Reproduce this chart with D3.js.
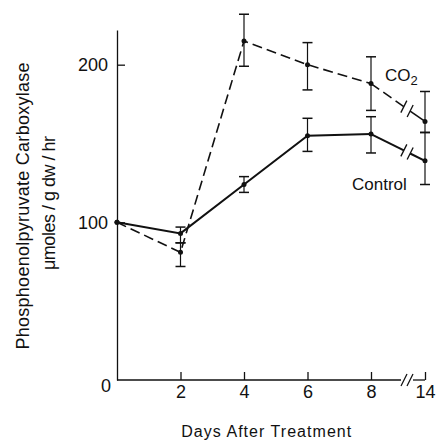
<!DOCTYPE html>
<meta charset="utf-8">
<style>
  body { margin: 0; background: #fff; }
  text { font-family: "Liberation Sans", Arial, sans-serif; fill: #111; }
</style>
<script src="https://d3js.org/d3.v7.min.js"></script>
<div id="chart"></div>
<script>

// values
var days      = [0, 2, 4, 6, 8, 14];
var co2       = [100, 81, 215, 200, 188, 164];
var co2Hi     = [null, 87, 232, 214, 205, 183];
var co2Lo     = [null, 72, 199, 184, 171, 157];
var control   = [100, 93, 124, 155, 156, 139];
var controlHi = [null, 97, 129, 166, 167, 157];
var controlLo = [null, 87, 119, 145, 144, 124];
var xTicks = [2, 4, 6, 8, 14];
var yTicks = [0, 100, 200];
var breakDay = 12;

var width = 436, height = 442;

var svg = d3.select("#chart").append("svg")
    .attr("width", width)
    .attr("height", height);

// axis is broken between 8 and 14
var x = d3.scaleLinear().domain([0, 8, 14]).range([117, 371, 425]);
var y = d3.scaleLinear().domain([0, 222]).range([380, 30]);

// y axis
var yAxis = svg.append("g")
    .attr("transform", "translate(" + x(0) + ",0)")
    .call(d3.axisLeft(y).tickValues(yTicks).tickSize(-8).tickSizeOuter(0).tickPadding(9));
yAxis.select(".domain").attr("stroke", "#111").attr("stroke-width", 1.3);
yAxis.selectAll(".tick line").attr("stroke", "#111").attr("stroke-width", 1.3);
yAxis.selectAll("text").style("font-size", "18px").attr("fill", "#111");
yAxis.selectAll(".tick").filter(function(d) { return d === 0; })
    .select("text").attr("transform", "translate(3,6)");
yAxis.selectAll(".tick").filter(function(d) { return d === 0; })
    .select("line").remove();

// x axis
var xAxis = svg.append("g")
    .attr("transform", "translate(0," + y(0) + ")")
    .call(d3.axisBottom(x).tickValues(xTicks).tickSize(-8).tickSizeOuter(0).tickPadding(5));
xAxis.select(".domain").remove();
xAxis.selectAll(".tick line").attr("stroke", "#111").attr("stroke-width", 1.3);
xAxis.selectAll("text").style("font-size", "18px").attr("fill", "#111");

var bx = x(breakDay);
xAxis.append("line").attr("x1", x(0)).attr("x2", bx - 6).attr("y1", 0).attr("y2", 0)
    .attr("stroke", "#111").attr("stroke-width", 1.3);
xAxis.append("line").attr("x1", bx + 6).attr("x2", x(14)).attr("y1", 0).attr("y2", 0)
    .attr("stroke", "#111").attr("stroke-width", 1.3);
[-3, 3].forEach(function(o) {
  xAxis.append("line")
      .attr("x1", bx + o - 3).attr("y1", 6)
      .attr("x2", bx + o + 3).attr("y2", -6)
      .attr("stroke", "#111").attr("stroke-width", 1.3);
});

// axis titles
svg.append("text")
    .attr("x", x(4.7)).attr("y", 437)
    .attr("text-anchor", "middle")
    .attr("textLength", 170).attr("lengthAdjust", "spacing")
    .style("font-size", "16px")
    .text("Days After Treatment");

svg.append("text")
    .attr("transform", "translate(29,206) rotate(-90)")
    .attr("text-anchor", "middle")
    .attr("textLength", 287).attr("lengthAdjust", "spacing")
    .style("font-size", "18px")
    .text("Phosphoenolpyruvate Carboxylase");

svg.append("text")
    .attr("transform", "translate(55,203) rotate(-90)")
    .attr("text-anchor", "middle")
    .attr("textLength", 134).attr("lengthAdjust", "spacing")
    .style("font-size", "18px")
    .text("\u03bcmoles / g dw / hr");

function drawSeries(vals, hi, lo, dash, sw) {
  var pts = days.map(function(d, i) { return [x(d), y(vals[i])]; });
  var line = d3.line();

  // days 0-8
  svg.append("path")
      .attr("d", line(pts.slice(0, 5)))
      .attr("fill", "none").attr("stroke", "#111")
      .attr("stroke-width", sw)
      .attr("stroke-dasharray", dash);

  // 8 -> 14 with a break in the middle
  var v = d3.scaleLinear().domain([8, 14]).range([vals[4], vals[5]]);
  var a = breakDay - 0.35, b = breakDay + 0.35;
  svg.append("path")
      .attr("d", line([[x(8), y(vals[4])], [x(a), y(v(a))]]))
      .attr("fill", "none").attr("stroke", "#111")
      .attr("stroke-width", sw).attr("stroke-dasharray", dash);
  svg.append("path")
      .attr("d", line([[x(b), y(v(b))], [x(14), y(vals[5])]]))
      .attr("fill", "none").attr("stroke", "#111")
      .attr("stroke-width", sw);
  [a, b].forEach(function(t) {
    var cx = x(t), cy = y(v(t));
    svg.append("line")
        .attr("x1", cx - 3).attr("y1", cy + 6)
        .attr("x2", cx + 3).attr("y2", cy - 6)
        .attr("stroke", "#111").attr("stroke-width", 1.3);
  });

  // error bars
  days.forEach(function(d, i) {
    if (hi[i] == null) return;
    var cx = x(d);
    svg.append("line").attr("x1", cx).attr("x2", cx)
        .attr("y1", y(hi[i])).attr("y2", y(lo[i]))
        .attr("stroke", "#111").attr("stroke-width", 1.2);
    [hi[i], lo[i]].forEach(function(e) {
      svg.append("line").attr("x1", cx - 5).attr("x2", cx + 5)
          .attr("y1", y(e)).attr("y2", y(e))
          .attr("stroke", "#111").attr("stroke-width", 1.5);
    });
  });

  svg.selectAll(null).data(pts).enter().append("circle")
      .attr("cx", function(p) { return p[0]; })
      .attr("cy", function(p) { return p[1]; })
      .attr("r", 2.5).attr("fill", "#111");
}

drawSeries(co2, co2Hi, co2Lo, "10,5", 1.6);
drawSeries(control, controlHi, controlLo, null, 2);

// series labels
var lab = svg.append("text").attr("x", 385).attr("y", 81).style("font-size", "17px");
lab.append("tspan").text("CO");
lab.append("tspan").attr("dy", 4).style("font-size", "13px").text("2");

svg.append("text").attr("x", 352).attr("y", 190).style("font-size", "17px").text("Control");

</script>
